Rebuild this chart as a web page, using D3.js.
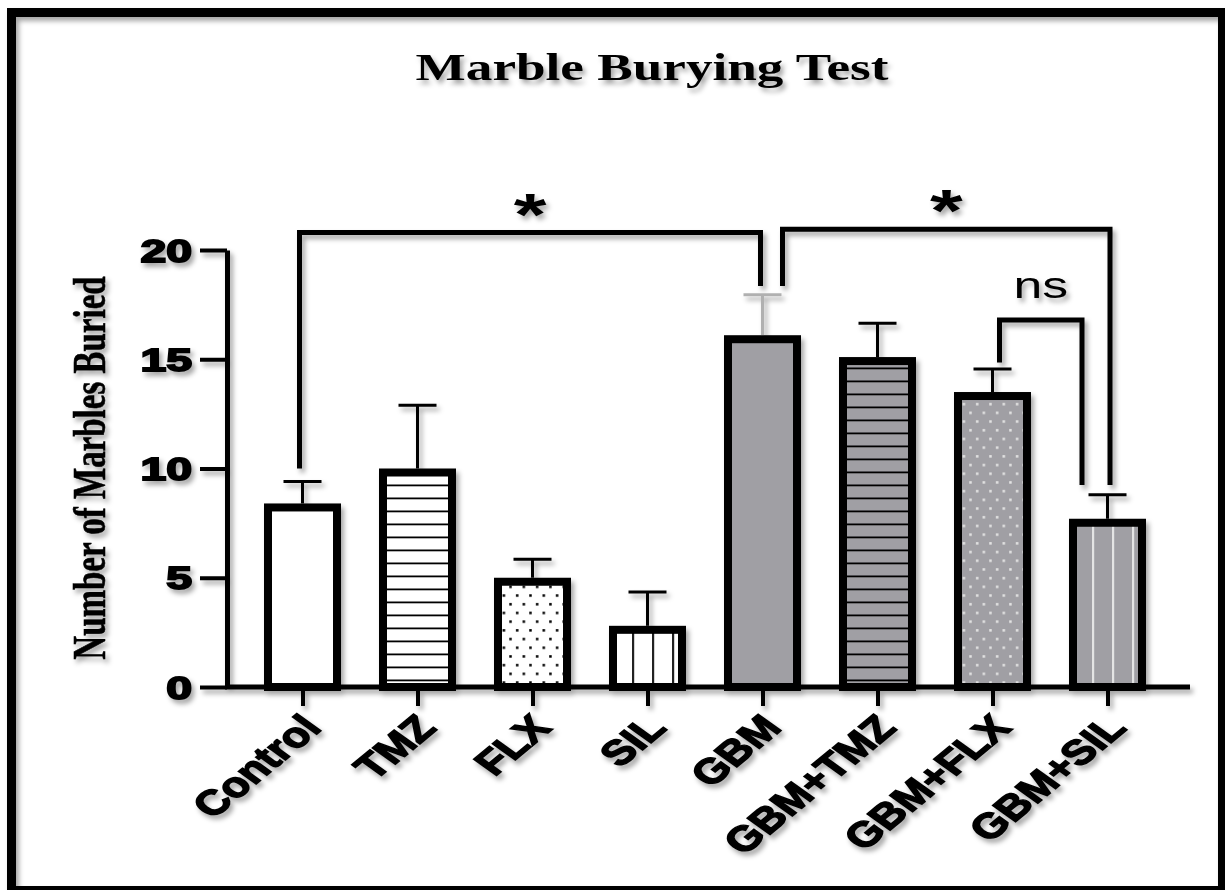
<!DOCTYPE html>
<html>
<head>
<meta charset="utf-8">
<script src="https://cdn.jsdelivr.net/npm/d3@7"></script>
<style>
  body { margin: 0; background: #fff; }
</style>
</head>
<body>
<script>
// data
var groups = ['Control', 'TMZ', 'FLX', 'SIL', 'GBM', 'GBM+TMZ', 'GBM+FLX', 'GBM+SIL'];
var means = [8.4, 10.0, 5.0, 2.8, 16.1, 15.1, 13.5, 7.7];
var sems = [1.0, 2.9, 0.85, 1.55, 1.85, 1.55, 1.05, 1.1];
var yTicks = [0, 5, 10, 15, 20];
var comparisons = [['Control', 'GBM', '*'], ['GBM', 'GBM+SIL', '*'], ['GBM+FLX', 'GBM+SIL', 'ns']];

var width = 1225, height = 890;
var gray = '#a09fa4';
var barW = 77, border = 8;
var stretch = 1.4; // the original figure was widened, text included

var svg = d3.select('body').append('svg')
    .attr('width', width)
    .attr('height', height);

var defs = svg.append('defs');
defs.append('filter')
    .attr('id', 'shadow')
    .attr('x', '-10%').attr('y', '-10%')
    .attr('width', '130%').attr('height', '130%')
  .append('feDropShadow')
    .attr('dx', 3).attr('dy', 4)
    .attr('stdDeviation', 2.5)
    .attr('flood-color', '#000')
    .attr('flood-opacity', 0.35);

var x = d3.scalePoint().domain(groups).range([302.5, 1107.5]);
var y = d3.scaleLinear().domain([0, 20]).range([687, 250]);

var g = svg.append('g').attr('filter', 'url(#shadow)');

// outer frame
g.append('rect')
    .attr('x', 11.5).attr('y', 12.5)
    .attr('width', 1211).attr('height', 878)
    .attr('fill', 'none')
    .attr('stroke', '#000')
    .attr('stroke-width', 9);

// title
g.append('text')
    .attr('transform', 'translate(652,80) scale(' + stretch + ',1)')
    .attr('text-anchor', 'middle')
    .attr('font-family', '"Liberation Serif", "Times New Roman", serif')
    .attr('font-weight', 'bold')
    .attr('font-size', 38)
    .text('Marble Burying Test');

// y label
g.append('text')
    .attr('transform', 'translate(105,468) scale(' + stretch + ',1) rotate(-90)')
    .attr('text-anchor', 'middle')
    .attr('font-family', '"Liberation Serif", "Times New Roman", serif')
    .attr('font-weight', 'bold')
    .attr('font-size', 33)
    .attr('stroke', '#000')
    .attr('stroke-width', 0.4)
    .text('Number of Marbles Buried');

// fill patterns, one per bar so they line up with the bar edges
groups.forEach(function(name, i) {
  var left = x(name) - barW / 2;
  var base = i >= 4 ? gray : '#fff';
  var kind = i % 4;
  var p = defs.append('pattern')
      .attr('id', 'pat' + i)
      .attr('patternUnits', 'userSpaceOnUse');
  if (kind === 0) {
    p.attr('width', 10).attr('height', 10);
    p.append('rect').attr('width', 10).attr('height', 10).attr('fill', base);
  } else if (kind === 1) {
    p.attr('x', left).attr('y', y(0)).attr('width', 10).attr('height', 13);
    p.append('rect').attr('width', 10).attr('height', 13).attr('fill', base);
    p.append('rect').attr('y', 5.5).attr('width', 10).attr('height', 1.8).attr('fill', '#000');
  } else if (kind === 2) {
    var ink = i >= 4 ? '#e4e4e4' : '#000';
    p.attr('x', left).attr('y', y(0)).attr('width', 13.3).attr('height', 17.4);
    p.append('rect').attr('width', 13.3).attr('height', 17.4).attr('fill', base);
    p.append('rect').attr('x', 2).attr('y', 3).attr('width', 2.5).attr('height', 2.5).attr('fill', ink);
    p.append('rect').attr('x', 8.65).attr('y', 11.7).attr('width', 2.5).attr('height', 2.5).attr('fill', ink);
  } else {
    var ink2 = i >= 4 ? '#e4e4e4' : '#222';
    p.attr('x', left).attr('y', 0).attr('width', 20).attr('height', 10);
    p.append('rect').attr('width', 20).attr('height', 10).attr('fill', base);
    p.append('rect').attr('x', 3).attr('width', 2.2).attr('height', 10).attr('fill', ink2);
  }
});

// error bars (upper only)
var err = g.append('g').selectAll('g')
    .data(groups)
  .enter().append('g')
    .attr('stroke', function(d, i) { return i === 4 ? '#b0b0b0' : '#000'; })
    .attr('stroke-width', 3);
err.append('line')
    .attr('x1', function(d) { return x(d); })
    .attr('x2', function(d) { return x(d); })
    .attr('y1', function(d, i) { return y(means[i]); })
    .attr('y2', function(d, i) { return y(means[i] + sems[i]); });
err.append('line')
    .attr('x1', function(d) { return x(d) - 19; })
    .attr('x2', function(d) { return x(d) + 19; })
    .attr('y1', function(d, i) { return y(means[i] + sems[i]); })
    .attr('y2', function(d, i) { return y(means[i] + sems[i]); });

// bars
g.append('g').selectAll('rect')
    .data(groups)
  .enter().append('rect')
    .attr('x', function(d) { return x(d) - barW / 2 + border / 2; })
    .attr('y', function(d, i) { return y(means[i]) + border / 2; })
    .attr('width', barW - border)
    .attr('height', function(d, i) { return y(0) - y(means[i]) - border / 2; })
    .attr('fill', function(d, i) { return 'url(#pat' + i + ')'; })
    .attr('stroke', '#000')
    .attr('stroke-width', border);

// y axis
var yAxis = g.append('g')
    .attr('transform', 'translate(227,0)')
    .call(d3.axisLeft(y).tickValues(yTicks).tickSize(27).tickSizeOuter(0));
yAxis.select('.domain').attr('stroke-width', 5).attr('stroke', '#000');
yAxis.selectAll('.tick line').attr('stroke-width', 4).attr('stroke', '#000');
yAxis.selectAll('.tick text')
    .attr('x', null).attr('dy', null)
    .attr('transform', 'translate(-35,0) scale(1.45,1)')
    .attr('dominant-baseline', 'central')
    .attr('font-family', '"Liberation Sans", Arial, sans-serif')
    .attr('font-weight', 'bold')
    .attr('font-size', 32)
    .attr('fill', '#000')
    .attr('stroke', '#000')
    .attr('stroke-width', 1.8);

// x axis
g.append('line')
    .attr('x1', 225).attr('x2', 1190)
    .attr('y1', y(0)).attr('y2', y(0))
    .attr('stroke', '#000')
    .attr('stroke-width', 5);
var xAxis = g.append('g')
    .attr('transform', 'translate(0,' + y(0) + ')')
    .call(d3.axisBottom(x).tickSize(19).tickSizeOuter(0));
xAxis.select('.domain').remove();
xAxis.selectAll('.tick line').attr('stroke-width', 4).attr('stroke', '#000');
xAxis.selectAll('.tick text')
    .attr('y', null).attr('dy', null)
    .attr('transform', 'translate(20,42) scale(1.3,1) rotate(-47)')
    .attr('text-anchor', 'end')
    .attr('font-family', '"Liberation Sans", Arial, sans-serif')
    .attr('font-weight', 'bold')
    .attr('font-size', 35)
    .attr('fill', '#000')
    .attr('stroke', '#000')
    .attr('stroke-width', 1.4);

// significance brackets: x offsets in px, heights in data units
var bracketLayout = [
  {dl: -3, dr: -2, top: 20.8, endL: 10.0, endR: 18.35, ty: 235},
  {dl: 20, dr: 2.5, top: 20.95, endL: 18.35, endR: 9.25, ty: 231},
  {dl: 7, dr: -25.5, top: 16.8, endL: 14.85, endR: 9.25, ty: 298}
];
comparisons.forEach(function(c, i) {
  var b = bracketLayout[i];
  var x1 = x(c[0]) + b.dl, x2 = x(c[1]) + b.dr;
  g.append('path')
      .attr('d', 'M' + x1 + ',' + y(b.endL) + 'V' + y(b.top) + 'H' + x2 + 'V' + y(b.endR))
      .attr('fill', 'none')
      .attr('stroke', '#000')
      .attr('stroke-width', 5);
  var star = c[2] === '*';
  g.append('text')
      .attr('transform', 'translate(' + ((x1 + x2) / 2) + ',' + b.ty + ') scale(' + stretch + ',1)')
      .attr('text-anchor', 'middle')
      .attr('font-family', '"Liberation Sans", Arial, sans-serif')
      .attr('font-weight', star ? 'bold' : 'normal')
      .attr('font-size', star ? 60 : 37)
      .text(c[2]);
});
</script>
</body>
</html>
